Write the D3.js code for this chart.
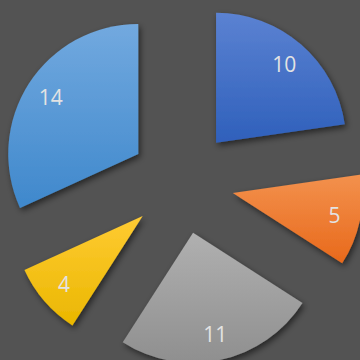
<!DOCTYPE html>
<html>
<head>
<meta charset="utf-8">
<script src="https://cdn.jsdelivr.net/npm/d3@7"></script>
<style>
  html, body { margin: 0; padding: 0; background: #535353; }
  svg { display: block; }
</style>
</head>
<body>
<div id="chart"></div>
<script>
// slice values, clockwise from 12 o'clock
var values = [10, 5, 11, 4, 14]
var topColors = ["#5b82d2", "#f3914d", "#b0b0b0", "#ffcb33", "#72a9df"]
var bottomColors = ["#2f60bb", "#e8691b", "#8f8f8f", "#eab700", "#3f88cc"]

var width = 360, height = 360
var cx = 182, cy = 182
var radius = 130
var explode = 52

var svg = d3.select("#chart").append("svg")
	.attr("width", width)
	.attr("height", height)

var defs = svg.append("defs")

var shadow = defs.append("filter")
	.attr("id", "shadow")
	.attr("x", "-20%").attr("y", "-20%")
	.attr("width", "140%").attr("height", "140%")
shadow.append("feDropShadow")
	.attr("dx", 2)
	.attr("dy", 3)
	.attr("stdDeviation", 3)
	.attr("flood-color", "#000")
	.attr("flood-opacity", 0.55)

values.forEach(function(v, i) {
	var g = defs.append("linearGradient")
		.attr("id", "grad" + i)
		.attr("x1", 0).attr("y1", 0)
		.attr("x2", 0).attr("y2", 1)
	g.append("stop").attr("offset", "0%").attr("stop-color", topColors[i])
	g.append("stop").attr("offset", "100%").attr("stop-color", bottomColors[i])
})

svg.append("rect")
	.attr("width", width)
	.attr("height", height)
	.attr("fill", "#535353")

var pie = d3.pie().sort(null).value(function(d) { return d })
var arc = d3.arc().innerRadius(0).outerRadius(radius)

var arcs = pie(values)

function offset(d, dist) {
	var mid = (d.startAngle + d.endAngle) / 2
	return [dist * Math.sin(mid), -dist * Math.cos(mid)]
}

var slices = svg.append("g")
	.attr("transform", "translate(" + cx + "," + cy + ")")
	.selectAll("g.slice")
	.data(arcs)
	.enter().append("g")
	.attr("class", "slice")
	.attr("transform", function(d) {
		var o = offset(d, explode)
		return "translate(" + o[0] + "," + o[1] + ")"
	})

slices.append("path")
	.attr("d", arc)
	.attr("fill", function(d, i) { return "url(#grad" + i + ")" })
	.attr("filter", "url(#shadow)")

slices.append("text")
	.attr("x", function(d) { return offset(d, 104)[0] })
	.attr("y", function(d) { return offset(d, 104)[1] })
	.attr("dy", "0.36em")
	.attr("text-anchor", "middle")
	.attr("fill", "#e3e3e3")
	.style("font-family", "'Open Sans', 'Noto Sans', sans-serif")
	.style("font-size", "21px")
	.text(function(d) { return d.data })
</script>
</body>
</html>
